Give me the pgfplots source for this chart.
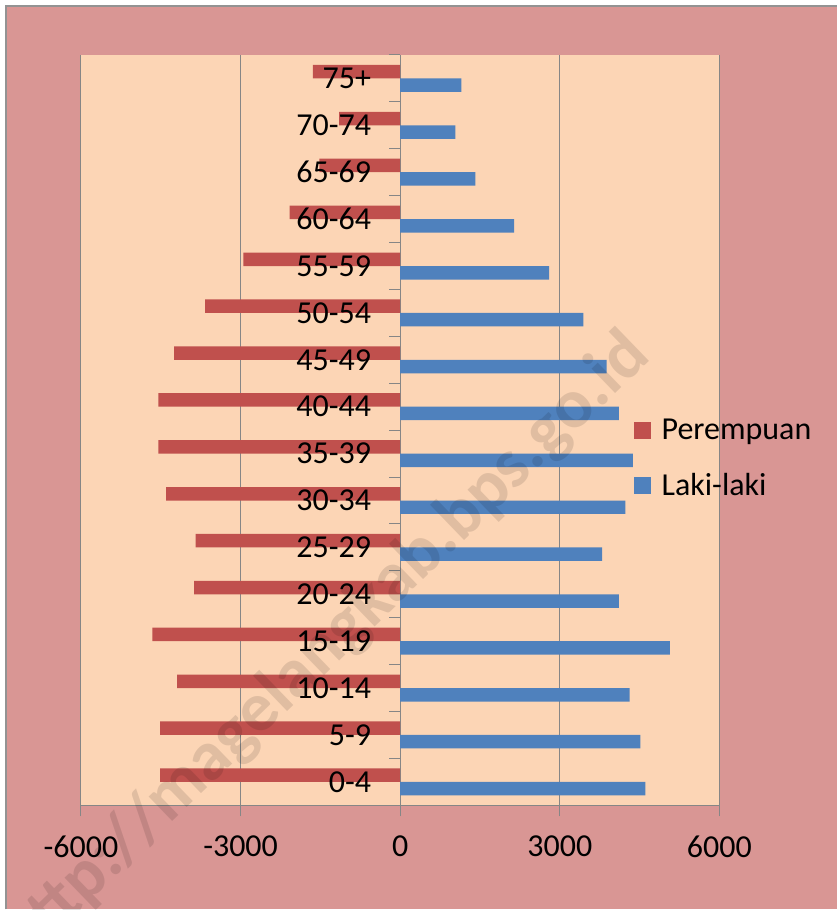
\documentclass[border=0pt]{standalone}
\usepackage{pgfplots}
\pgfplotsset{compat=1.18}
\usepackage{fontspec}
\setmainfont{Carlito}
\definecolor{outerbg}{HTML}{D99694}
\definecolor{plotbg}{HTML}{FCD5B5}
\definecolor{perempuan}{HTML}{C0504D}
\definecolor{laki}{HTML}{4F81BD}
\definecolor{gridc}{HTML}{868686}
\pgfplotsset{
  layers/chartlayers/.define layer set={
    bg,axis background,axis grid,pre main,main,axis ticks,axis lines,
    axis tick labels,axis descriptions,axis foreground}{},
}
\newcommand\bigfont{\fontsize{32}{38}\selectfont}
\tikzset{catlabel/.style={anchor=east, inner sep=0pt, xshift=-29pt, font=\bigfont, text=black}}

\begin{document}
\begin{tikzpicture}
\begin{axis}[
  set layers=chartlayers,
  at={(0pt,0pt)}, anchor=south west,
  scale only axis, width=639pt, height=751pt,
  clip=false,
  xmin=-6000, xmax=6000, ymin=-0.5, ymax=15.5,
  axis background/.style={fill=plotbg},
  axis x line*=bottom, axis y line*=middle,
  hide obscured x ticks=false, hide obscured y ticks=false,
  axis line style={gridc, line width=1pt},
  xtick={-6000,-3000,0,3000,6000},
  xticklabels={-6000,-3000,0,3000,6000},
  scaled x ticks=false,
  xmajorgrids, major x grid style={gridc, line width=1pt},
  ytick={-0.5,0.5,...,15.5},
  yticklabels={},
  tick align=outside,
  major tick length=11pt,
  every tick/.style={gridc, line width=1pt},
  tick label style={font=\bigfont, text=black},
  xticklabel style={yshift=-16pt},
  legend style={at={(rel axis cs:0.8654,0.4627)}, anchor=west, draw=none, fill=none,
    font=\bigfont, row sep=28pt, inner sep=0pt,
    /tikz/every odd column/.append style={column sep=9pt}},
  legend cell align=left,
  legend image code/.code={\fill[#1] (0pt,-8.5pt) rectangle (17pt,8.5pt);},
]
\begin{pgfonlayer}{bg}
  \fill[white] (rel axis cs:-0.1268,-0.1385) rectangle (rel axis cs:1.1847,1.0733);
  \fill[outerbg] (rel axis cs:-0.1174,-0.1385) rectangle (rel axis cs:1.1847,1.0653);
  \draw[gray!85, line width=1.5pt] (rel axis cs:-0.1174,-0.1385) -- (rel axis cs:-0.1174,1.0653)
    -- (rel axis cs:1.1847,1.0653);
\end{pgfonlayer}

\addplot[xbar, bar width=13.5pt, bar shift=6.75pt, fill=perempuan, draw=none]
  coordinates {(-4513,0) (-4513,1) (-4194,2) (-4657,3) (-3875,4) (-3844,5) (-4400,6) (-4545,7)
               (-4545,8) (-4250,9) (-3668,10) (-2948,11) (-2079,12) (-1521,13) (-1146,14) (-1640,15)};
\addlegendentry{Perempuan}
\addplot[xbar, bar width=13.5pt, bar shift=-6.75pt, fill=laki, draw=none]
  coordinates {(4607,0) (4513,1) (4313,2) (5071,3) (4113,4) (3794,5) (4232,6) (4376,7)
               (4113,8) (3881,9) (3443,10) (2798,11) (2141,12) (1415,13) (1039,14) (1152,15)};
\addlegendentry{Laki-laki}

\begin{pgfonlayer}{axis foreground}
  % category names over the bars, as in the original
  \node[catlabel] at (axis cs:0,0) {0-4};
  \node[catlabel] at (axis cs:0,1) {5-9};
  \node[catlabel] at (axis cs:0,2) {10-14};
  \node[catlabel] at (axis cs:0,3) {15-19};
  \node[catlabel] at (axis cs:0,4) {20-24};
  \node[catlabel] at (axis cs:0,5) {25-29};
  \node[catlabel] at (axis cs:0,6) {30-34};
  \node[catlabel] at (axis cs:0,7) {35-39};
  \node[catlabel] at (axis cs:0,8) {40-44};
  \node[catlabel] at (axis cs:0,9) {45-49};
  \node[catlabel] at (axis cs:0,10) {50-54};
  \node[catlabel] at (axis cs:0,11) {55-59};
  \node[catlabel] at (axis cs:0,12) {60-64};
  \node[catlabel] at (axis cs:0,13) {65-69};
  \node[catlabel] at (axis cs:0,14) {70-74};
  \node[catlabel] at (axis cs:0,15) {75+};
  \node[overlay, rotate=44, opacity=0.11, text=black, font=\fontsize{70}{74}\selectfont\bfseries]
    at (rel axis cs:0.384,0.21) {http://magelangkab.bps.go.id};
\end{pgfonlayer}
\end{axis}
\end{tikzpicture}
\end{document}
